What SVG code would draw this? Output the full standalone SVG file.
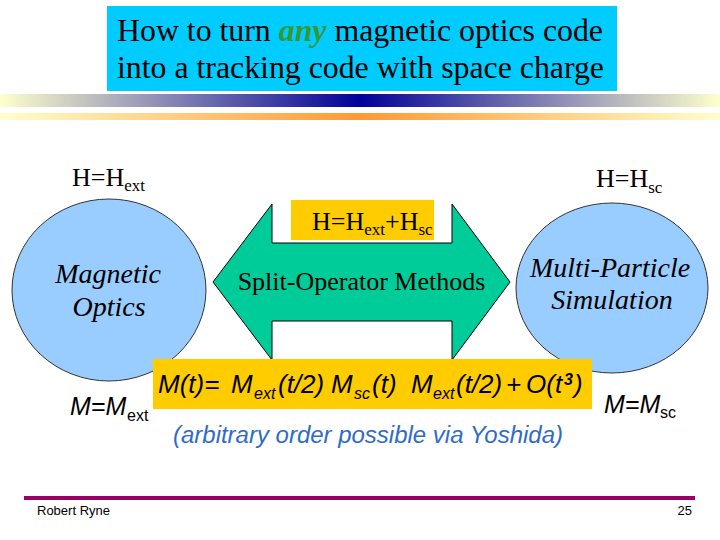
<svg xmlns="http://www.w3.org/2000/svg" width="720" height="540" viewBox="0 0 720 540">
  <defs>
    <linearGradient id="barBlue" x1="0" y1="0" x2="720" y2="0" gradientUnits="userSpaceOnUse">
      <stop offset="0" stop-color="#FFFFCC"/>
      <stop offset="0.5" stop-color="#000099"/>
      <stop offset="1" stop-color="#FFFFCC"/>
    </linearGradient>
    <linearGradient id="barOrange" x1="0" y1="0" x2="720" y2="0" gradientUnits="userSpaceOnUse">
      <stop offset="0" stop-color="#FFFFCC"/>
      <stop offset="0.5" stop-color="#FF9933"/>
      <stop offset="1" stop-color="#FFFFCC"/>
    </linearGradient>
    <style>
      .serif { font-family: "Liberation Serif", "Times New Roman", serif; fill: #000; }
      .sans { font-family: "Liberation Sans", Arial, sans-serif; fill: #000; }
      .ital { font-style: italic; }
      .node { fill: #99CCFF; stroke: #333333; stroke-width: 1; }
      .ybox { fill: #FFCC00; }
    </style>
  </defs>

  <rect width="720" height="540" fill="#FFFFFF"/>

  <g id="title">
    <rect x="107" y="6" width="510" height="85" fill="#00CCFF"/>
    <text class="serif" x="117" y="41" font-size="31" textLength="486" lengthAdjust="spacingAndGlyphs">How to turn <tspan font-weight="bold" font-style="italic" fill="#339933">any</tspan> magnetic optics code</text>
    <text class="serif" x="117" y="78" font-size="31" textLength="487" lengthAdjust="spacingAndGlyphs">into a tracking code with space charge</text>
  </g>

  <g id="bars">
    <rect x="0" y="94" width="720" height="13" fill="url(#barBlue)"/>
    <rect x="0" y="113" width="720" height="7" fill="url(#barOrange)"/>
  </g>

  <g id="connectors">
    <polygon points="213,282 272,204 272,243 452,243 452,204 510,282 452,360 452,321 272,321 272,360" fill="#00CC99" stroke="#000" stroke-width="1"/>
    <text class="serif" x="361.5" y="290" font-size="26" text-anchor="middle">Split-Operator Methods</text>
  </g>

  <g id="label-hsum">
    <rect class="ybox" x="291" y="200" width="143" height="40"/>
    <text class="serif" x="312" y="230" font-size="26">H=H<tspan font-size="17" dy="5">ext</tspan><tspan dy="-5">+H</tspan><tspan font-size="17" dy="5">sc</tspan></text>
  </g>

  <g id="node-magnetic">
    <ellipse class="node" cx="109" cy="290" rx="97" ry="91"/>
    <text class="serif ital" x="108" y="283" font-size="28" text-anchor="middle">Magnetic</text>
    <text class="serif ital" x="109" y="316" font-size="28" text-anchor="middle">Optics</text>
  </g>

  <g id="node-multiparticle">
    <ellipse class="node" cx="612" cy="288" rx="96" ry="85"/>
    <text class="serif ital" x="610" y="277" font-size="28" text-anchor="middle">Multi-Particle</text>
    <text class="serif ital" x="612" y="309" font-size="28" text-anchor="middle">Simulation</text>
  </g>

  <g id="label-hext">
    <text class="serif" x="72" y="186" font-size="26">H=H<tspan font-size="17" dy="5">ext</tspan></text>
  </g>
  <g id="label-hsc">
    <text class="serif" x="596" y="187" font-size="26">H=H<tspan font-size="17" dy="6">sc</tspan></text>
  </g>

  <g id="formula">
    <rect class="ybox" x="153" y="359" width="439" height="50"/>
    <text class="sans ital" y="393" font-size="26"><tspan x="158">M(t)=</tspan><tspan x="231">M</tspan><tspan x="254" y="399" font-size="16">ext</tspan><tspan x="278" y="393">(t/2)</tspan><tspan x="331">M</tspan><tspan x="354" y="399" font-size="16">sc</tspan><tspan x="372" y="393">(t)</tspan><tspan x="411">M</tspan><tspan x="433" y="399" font-size="16">ext</tspan><tspan x="456" y="393">(t/2)</tspan><tspan x="506">+</tspan><tspan x="526">O(t</tspan><tspan x="564" y="385" font-size="16" font-weight="bold">3</tspan><tspan x="574" y="393">)</tspan></text>
  </g>

  <g id="label-mext">
    <text class="sans" x="70" y="415" font-size="25"><tspan font-style="italic">M=M</tspan><tspan font-size="16" x="127" y="421">ext</tspan></text>
  </g>
  <g id="label-msc">
    <text class="sans" x="604" y="413" font-size="25"><tspan font-style="italic">M=M</tspan><tspan font-size="16" x="660" y="418">sc</tspan></text>
  </g>

  <g id="note">
    <text class="sans ital" x="173" y="443" font-size="23" style="fill:#2F6BC8" textLength="390" lengthAdjust="spacingAndGlyphs">(arbitrary order possible via Yoshida)</text>
  </g>

  <g id="footer">
    <rect x="24" y="496" width="671" height="4" fill="#990066"/>
    <text class="sans" x="37" y="515" font-size="13">Robert Ryne</text>
    <text class="sans" x="692" y="515" font-size="13" text-anchor="end">25</text>
  </g>
</svg>
